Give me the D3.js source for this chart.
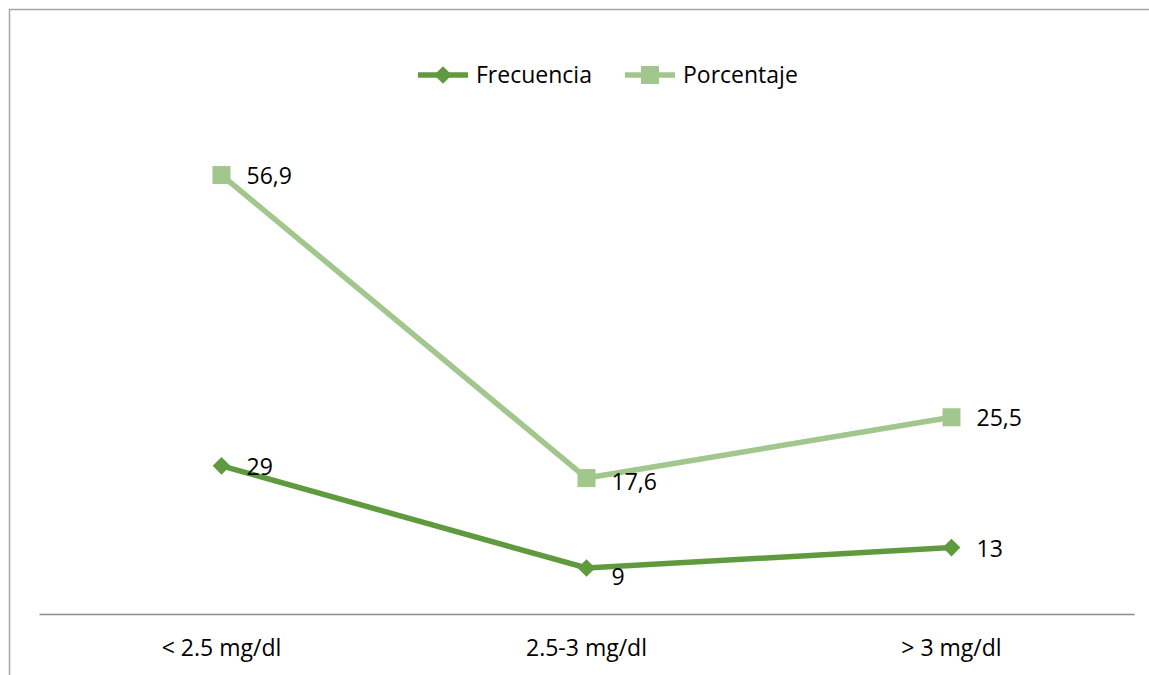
<!DOCTYPE html>
<html>
<head>
<meta charset="utf-8">
<script src="https://cdn.jsdelivr.net/npm/d3@7"></script>
<style>
  body { margin: 0; background: #fff; }
  text { font-family: "Open Sans", sans-serif; fill: #000; }
</style>
</head>
<body>
<div id="chart"></div>
<script>
const categories = ["< 2.5 mg/dl", "2.5-3 mg/dl", "> 3 mg/dl"] ;
const frecuencia = [29, 9, 13] ;
const porcentaje = [56.9, 17.6, 25.5] ;
const labels_frec = ["29", "9", "13"] ;
const labels_porc = ["56,9", "17,6", "25,5"] ;

const colFrec = "#5f9a3e" ;
const colPorc = "#a1c78d" ;
const fontSize = 23 ;

let dimensions = {
  width: 1149,
  height: 675,
  margin: { top: 103, right: 15, bottom: 61, left: 39 },
}
dimensions.boundedWidth = 1134 - dimensions.margin.left
dimensions.boundedHeight = dimensions.height - dimensions.margin.top - dimensions.margin.bottom

const svg = d3.select("#chart").append("svg")
  .attr("width", dimensions.width)
  .attr("height", dimensions.height) ;

// outer frame (runs off the right and bottom edges)
svg.append("path")
  .attr("d", "M9.5,676 L9.5,9.5 L1150,9.5")
  .attr("fill", "none")
  .attr("stroke", "#a6a6a6")
  .attr("stroke-width", 1.5) ;

const bounds = svg.append("g")
  .attr("transform", `translate(${dimensions.margin.left},${dimensions.margin.top})`) ;

const xScale = d3.scaleBand()
  .domain(categories)
  .range([0, dimensions.boundedWidth]) ;

// stacked line: porcentaje sits on top of frecuencia
const yScale = d3.scaleLinear()
  .domain([0, 100])
  .range([dimensions.boundedHeight, 0]) ;

const cx = (i) => xScale(categories[i]) + xScale.bandwidth() / 2 ;

const frecData = frecuencia.map((v, i) => ({i, y: v, label: labels_frec[i]})) ;
const porcData = porcentaje.map((v, i) => ({i, y: v + frecuencia[i], label: labels_porc[i]})) ;

// axis
const xAxis = bounds.append("g")
  .attr("transform", `translate(0,${dimensions.boundedHeight})`)
  .call(d3.axisBottom(xScale).tickSize(0).tickPadding(26)) ;
xAxis.select(".domain").attr("stroke", "#8c8c8c").attr("stroke-width", 1.3) ;
xAxis.selectAll("text").attr("font-size", fontSize).attr("font-family", "'Open Sans', sans-serif") ;

const line = d3.line().x(d => cx(d.i)).y(d => yScale(d.y)) ;

bounds.append("path").datum(porcData)
  .attr("d", line).attr("fill", "none")
  .attr("stroke", colPorc).attr("stroke-width", 5.5) ;
bounds.append("path").datum(frecData)
  .attr("d", line).attr("fill", "none")
  .attr("stroke", colFrec).attr("stroke-width", 5.5) ;

const sq = d3.symbol().type(d3.symbolSquare).size(324) ;
const dm = d3.symbol().type(d3.symbolDiamond2).size(200) ;

bounds.selectAll(".mporc").data(porcData).enter().append("path")
  .attr("transform", d => `translate(${cx(d.i)},${yScale(d.y)})`)
  .attr("d", sq).attr("fill", colPorc) ;
bounds.selectAll(".mfrec").data(frecData).enter().append("path")
  .attr("transform", d => `translate(${cx(d.i)},${yScale(d.y)})`)
  .attr("d", dm).attr("fill", colFrec) ;

bounds.selectAll(".lporc").data(porcData).enter().append("text")
  .attr("x", d => cx(d.i) + 25)
  .attr("y", d => yScale(d.y) + (d.i == 1 ? 6 : 3))
  .attr("dominant-baseline", "middle")
  .attr("font-size", fontSize)
  .text(d => d.label) ;
bounds.selectAll(".lfrec").data(frecData).enter().append("text")
  .attr("x", d => cx(d.i) + 25)
  .attr("y", d => yScale(d.y) + (d.i == 1 ? 11 : 3))
  .attr("dominant-baseline", "middle")
  .attr("font-size", fontSize)
  .text(d => d.label) ;

// legend
const legend = svg.append("g") ;
const legItems = [
  {name: "Frecuencia", color: colFrec, sym: dm, x: 418},
  {name: "Porcentaje", color: colPorc, sym: sq, x: 625},
] ;
legItems.forEach(d => {
  const g = legend.append("g").attr("transform", `translate(${d.x},75)`) ;
  g.append("line").attr("x1", 0).attr("x2", 50)
    .attr("stroke", d.color).attr("stroke-width", 5.5) ;
  g.append("path").attr("transform", "translate(25,0)").attr("d", d.sym).attr("fill", d.color) ;
  g.append("text").attr("x", 58).attr("y", 2)
    .attr("dominant-baseline", "middle").attr("font-size", fontSize).text(d.name) ;
}) ;
</script>
</body>
</html>
